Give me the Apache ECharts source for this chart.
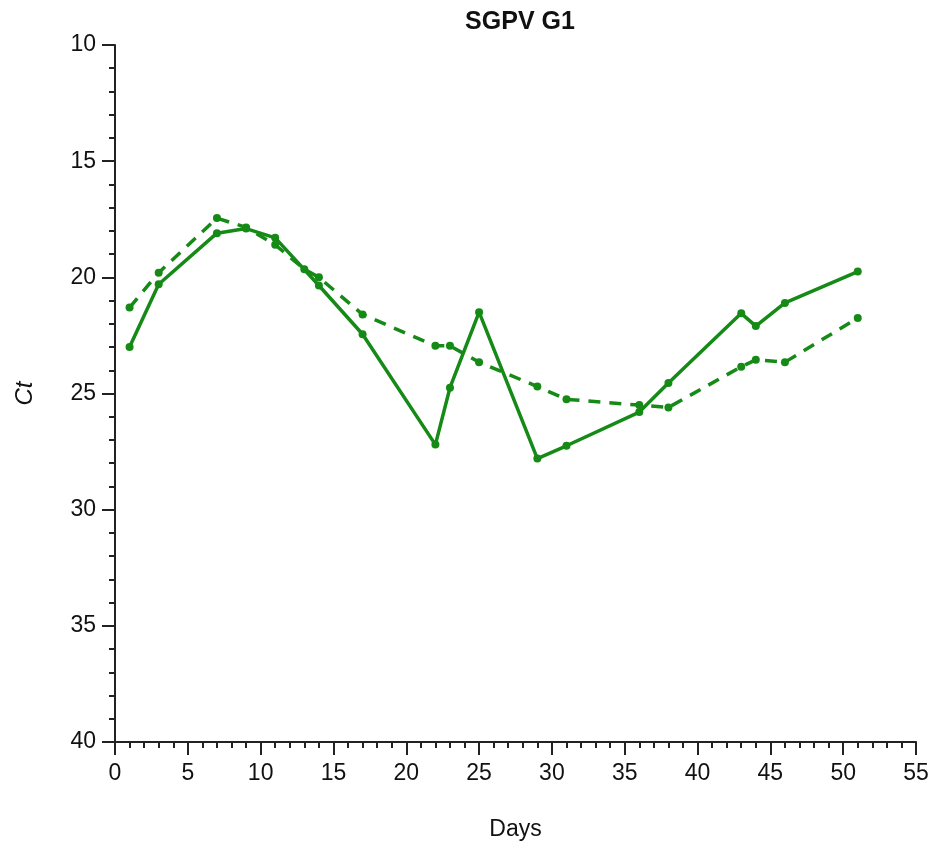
<!DOCTYPE html>
<html>
<head>
<meta charset="utf-8">
<script src="https://cdn.jsdelivr.net/npm/echarts@6/dist/echarts.min.js"></script>
<style>html,body{margin:0;padding:0;background:#fff}#c{width:935px;height:847px}</style>
</head>
<body>
<div id="c"></div>
<script>
const solidDays = [1, 3, 7, 9, 11, 14, 17, 22, 23, 25, 29, 31, 36, 38, 43, 44, 46, 51];
const solidCt   = [23.0, 20.3, 18.1, 17.9, 18.3, 20.35, 22.45, 27.2, 24.75, 21.5, 27.8, 27.25, 25.8, 24.55, 21.55, 22.1, 21.1, 19.75];
const dashedDays = [1, 3, 7, 9, 11, 13, 14, 17, 22, 23, 25, 29, 31, 36, 38, 43, 44, 46, 51];
const dashedCt   = [21.3, 19.8, 17.45, 17.85, 18.6, 19.65, 20.0, 21.6, 22.95, 22.95, 23.65, 24.7, 25.25, 25.5, 25.6, 23.85, 23.55, 23.65, 21.75];
const xTicks = [0, 55, 5];
const yTicks = [10, 40, 5];

const green = '#168a16';
const font = '"Liberation Sans", Arial, sans-serif';
const chart = echarts.init(document.getElementById('c'));
const axisCommon = {
  axisLine: {show: true, onZero: false, lineStyle: {color: '#222', width: 2}},
  axisTick: {show: true, inside: false, length: 13, lineStyle: {color: '#222', width: 2}},
  minorTick: {show: true, splitNumber: 5, length: 6, lineStyle: {color: '#222', width: 2}},
  splitLine: {show: false},
  axisLabel: {color: '#111', fontSize: 23, fontFamily: font}
};
chart.setOption({
  animation: false,
  backgroundColor: '#fff',
  title: {text: 'SGPV G1', left: 515, textAlign: 'center', top: 5,
    textStyle: {fontSize: 25, fontWeight: 'bold', color: '#111', fontFamily: font}},
  grid: {left: 115, right: 19, top: 45, bottom: 105, outerBoundsMode: 'none', containLabel: false},
  xAxis: Object.assign({}, axisCommon, {
    type: 'value', min: xTicks[0], max: xTicks[1], interval: xTicks[2],
    name: 'Days', nameLocation: 'middle', nameGap: 76,
    nameTextStyle: {fontSize: 23, color: '#111', fontFamily: font},
    axisLabel: Object.assign({}, axisCommon.axisLabel, {margin: 20})
  }),
  yAxis: Object.assign({}, axisCommon, {
    type: 'value', min: yTicks[0], max: yTicks[1], interval: yTicks[2], inverse: true,
    name: 'Ct', nameLocation: 'middle', nameGap: 78, nameRotate: 90,
    nameTextStyle: {fontSize: 24, color: '#111', fontStyle: 'italic', fontFamily: font},
    axisLabel: Object.assign({}, axisCommon.axisLabel, {margin: 19})
  }),
  series: [
    {type: 'line', data: solidDays.map((d, i) => [d, solidCt[i]]),
      symbol: 'circle', symbolSize: 8, showAllSymbol: true,
      lineStyle: {color: green, width: 3.5}, itemStyle: {color: green}},
    {type: 'line', data: dashedDays.map((d, i) => [d, dashedCt[i]]),
      symbol: 'circle', symbolSize: 8, showAllSymbol: true,
      lineStyle: {color: green, width: 3.5, type: [12, 9]}, itemStyle: {color: green}}
  ]
});
</script>
</body>
</html>
